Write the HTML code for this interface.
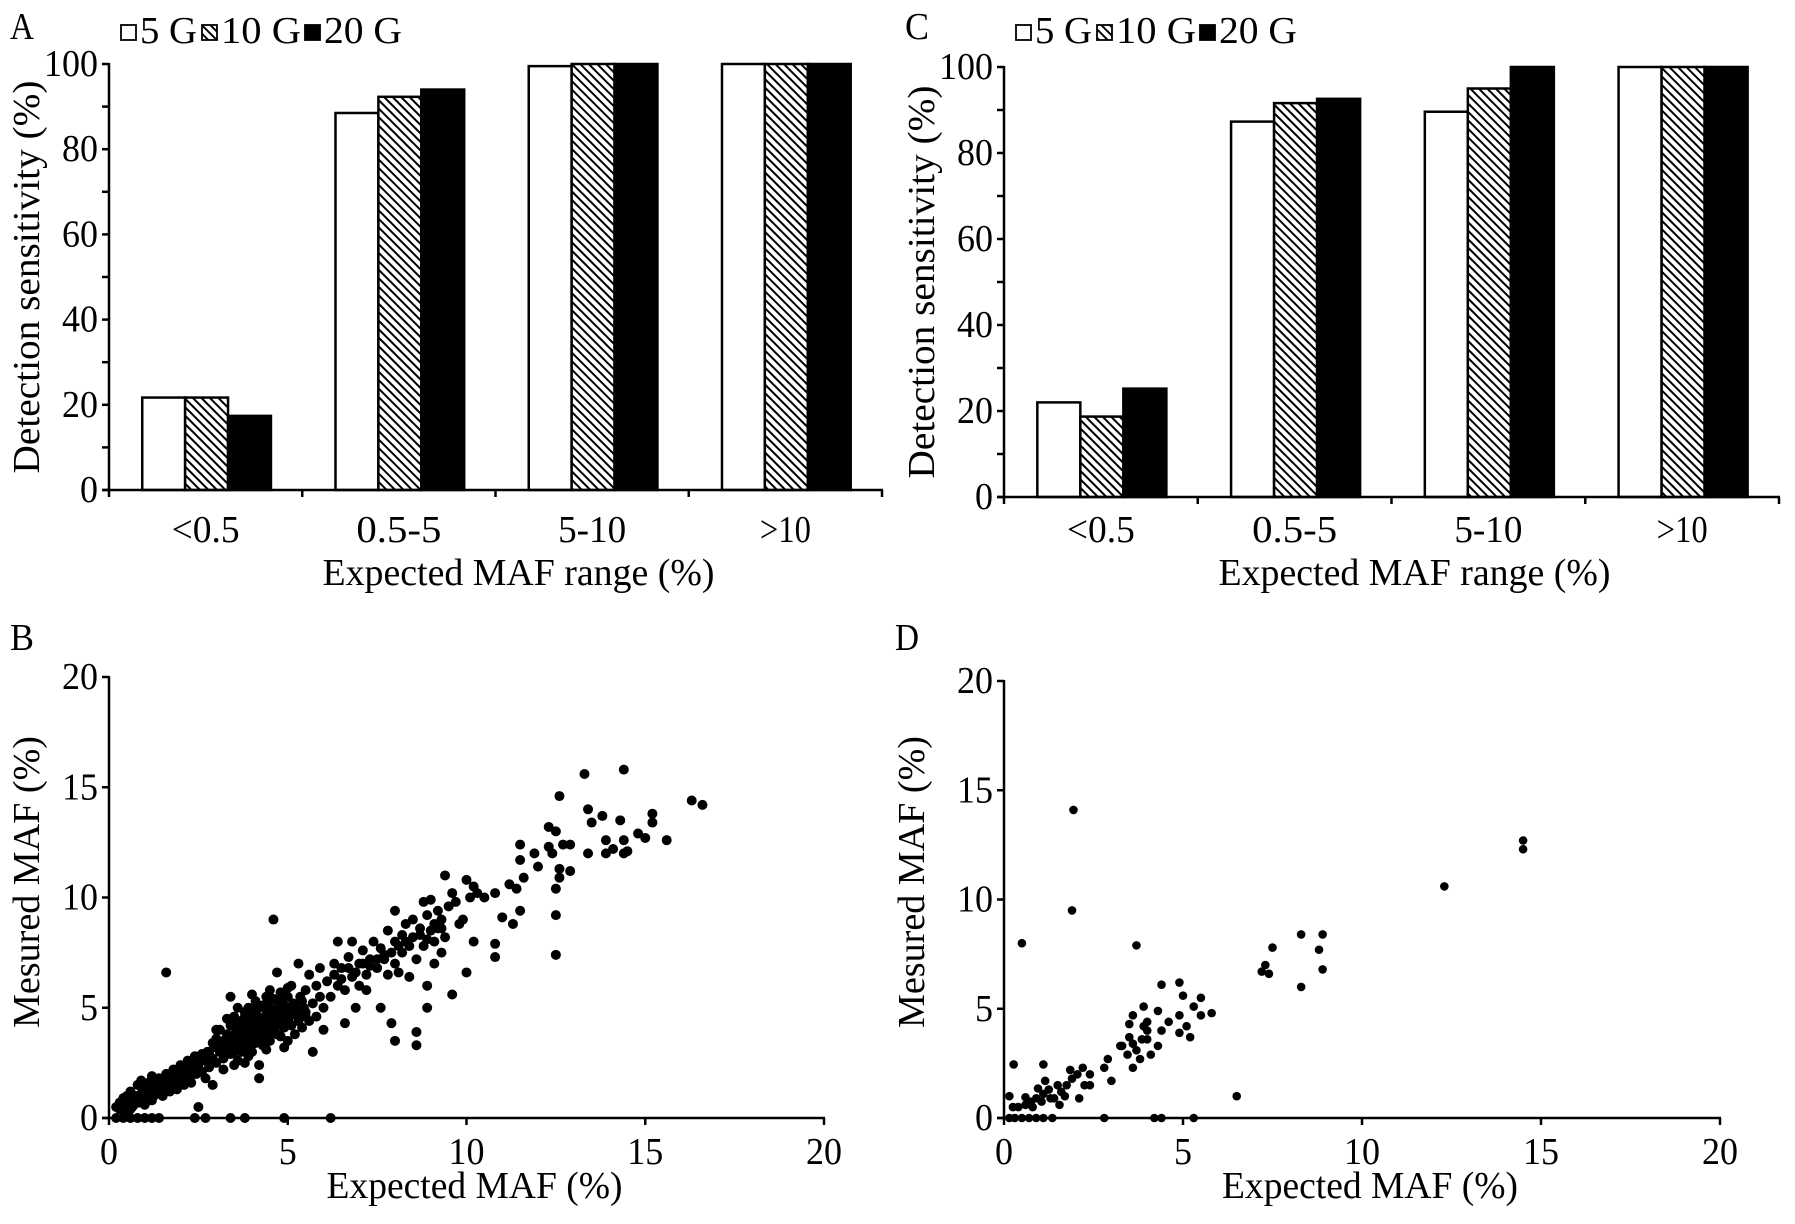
<!DOCTYPE html>
<html><head><meta charset="utf-8">
<style>
html,body{margin:0;padding:0;background:#fff;}
svg{display:block;}
text{font-family:"Liberation Serif","Times New Roman",serif;fill:#000;}
</style></head>
<body>
<svg id="fig" width="1795" height="1224" viewBox="0 0 1795 1224" xmlns="http://www.w3.org/2000/svg">
<defs>
<pattern id="hatch" patternUnits="userSpaceOnUse" width="6" height="6" patternTransform="rotate(45)">
<rect width="6" height="6" fill="#fff"/>
<rect x="0" y="0" width="6" height="2" fill="#000"/>
</pattern>
</defs>
</svg>
<script>
// ---- data ----
const categories = ["<0.5","0.5-5","5-10",">10"];
const seriesNames = ["5 G","10 G","20 G"];
const barYTicks = [0,20,40,60,80,100];
const panelA5G = [21.7,88.5,99.5,100];
const panelA10G = [21.7,92.3,100,100];
const panelA20G = [17.4,94,100,100];
const panelC5G = [22,87.3,89.6,100];
const panelC10G = [18.7,91.6,95,100];
const panelC20G = [25.2,92.6,100,100];
const scatterTicks = [0,5,10,15,20];
const panelBx = [0.2,0.4,0.6,0.8,1.0,1.2,1.4,2.4,2.7,3.4,3.8,4.9,6.2,
0.2,0.3,0.3,0.4,0.4,0.5,0.5,0.6,0.6,0.7,0.7,0.8,0.8,0.9,0.9,1.0,1.0,1.1,1.1,1.2,1.2,1.3,1.3,1.4,1.4,1.5,1.5,1.6,1.6,1.7,1.7,1.8,1.8,1.9,1.9,2.0,2.0,2.1,2.1,2.2,2.2,2.3,2.3,2.4,2.4,2.5,2.5,2.6,2.6,2.7,2.7,2.8,2.8,2.9,2.9,3.0,3.0,3.0,1.6,0.6,1.0,0.9,1.2,0.5,
3.1,3.2,3.2,3.3,3.3,3.4,3.4,3.4,3.5,3.5,3.5,3.6,3.6,3.6,3.7,3.7,3.7,3.8,3.8,3.8,3.8,3.9,3.9,3.9,4.0,4.0,4.0,4.0,4.1,4.1,4.1,4.2,4.2,4.2,4.2,4.3,4.3,4.3,4.4,4.4,4.4,4.5,4.5,4.5,4.6,4.6,4.6,4.7,4.7,4.7,4.8,4.8,4.8,4.9,4.9,5.0,5.0,5.0,5.1,5.1,5.2,5.2,5.3,5.3,5.4,5.4,5.5,5.5,5.6,5.6,5.7,5.7,5.8,5.8,5.9,5.9,6.0,6.0,3.2,3.5,3.9,4.4,4.9,3.1,3.3,3.6,4.1,4.5,2.9,3.0,
3.15,3.25,3.35,3.45,3.55,3.65,3.75,3.85,3.95,4.05,4.15,4.25,4.35,4.45,4.55,4.65,4.75,4.85,4.95,5.05,5.15,5.25,5.35,5.45,3.3,3.5,3.7,3.9,4.1,4.3,4.5,4.7,4.9,5.1,5.3,5.5,3.6,3.8,4.0,4.2,4.4,4.6,4.8,5.0,
0.35,0.55,0.75,0.95,1.15,1.35,1.55,1.75,1.95,2.15,2.35,2.55,2.75,0.45,0.65,0.85,1.05,1.25,1.45,1.65,1.85,2.05,2.25,2.45,
6.1,6.2,6.3,6.4,6.4,6.5,6.6,6.6,6.7,6.8,6.8,6.9,7.0,7.0,7.1,7.2,7.2,7.3,7.4,7.5,7.6,7.6,7.7,7.8,7.8,7.9,7.9,8.0,8.0,8.0,8.0,8.1,8.2,8.2,8.3,8.4,8.4,8.5,8.5,8.6,8.6,8.6,8.7,8.8,8.8,8.9,8.9,8.9,9.0,9.0,9.1,9.1,9.2,9.2,9.3,9.3,9.4,9.4,9.5,9.6,9.6,9.7,9.8,9.9,10.0,10.0,10.1,10.2,10.2,10.3,10.5,10.8,10.8,10.8,11.0,11.2,11.3,11.4,11.5,11.5,11.6,11.5,11.9,12.0,12.3,12.3,12.4,12.5,12.5,12.5,12.5,12.6,12.6,12.6,12.7,12.9,12.9,13.3,13.4,13.4,13.5,13.8,13.9,13.9,14.1,14.3,14.4,14.4,14.4,14.5,14.8,15.0,15.2,15.2,15.6,16.3,16.6,
6.3,6.5,6.7,6.9,7.1,7.3,7.5,7.7,8.1,8.3,8.7,8.9,9.1,9.3];
const panelBy = [0,0,0,0,0,0,0,0,0,0,0,0,0,
0.5,0.7,0.4,0.9,0.6,0.5,1.0,0.8,1.2,0.6,1.0,0.9,1.5,1.1,0.7,1.3,0.9,1.6,1.0,1.2,0.8,1.5,1.1,1.8,1.3,1.0,1.6,1.4,2.0,1.7,1.2,2.2,1.5,1.9,1.3,2.4,1.7,2.0,1.5,2.6,1.9,2.2,1.6,2.8,2.0,2.4,0.5,2.9,2.1,2.6,1.8,3.0,2.3,2.7,1.5,3.2,4.0,2.5,6.6,0.4,0.6,1.7,1.9,0.3,
3.0,3.5,2.7,3.8,3.1,4.2,2.9,5.5,3.6,4.6,3.0,4.0,3.3,2.6,4.4,3.7,3.0,4.8,3.9,3.2,2.5,4.2,3.5,5.0,4.6,3.8,3.0,5.6,4.2,3.4,4.9,4.5,3.7,1.8,2.4,5.1,4.0,3.3,4.7,3.8,5.5,4.3,3.5,5.0,4.6,3.9,9.0,5.3,4.2,6.6,4.8,3.7,5.7,4.4,5.1,4.7,3.5,5.5,4.2,6.0,5.0,3.8,4.6,7.0,5.3,4.1,5.8,4.8,6.5,4.4,5.2,3.0,6.0,4.6,5.5,6.8,5.0,4.0,2.2,2.4,2.8,3.1,3.2,4.0,4.5,5.0,5.3,5.8,3.4,3.6,
3.3,3.2,3.6,3.4,3.9,3.6,4.0,3.7,4.3,3.9,4.6,4.1,4.4,4.0,4.8,4.3,5.0,4.5,4.9,4.6,5.2,4.8,5.5,5.0,2.9,3.0,3.3,3.2,3.6,3.5,3.8,3.8,4.1,4.2,4.4,4.6,4.4,4.6,4.9,5.0,5.2,5.4,5.3,5.9,
0.6,0.8,1.0,1.2,1.4,1.6,1.8,2.0,2.2,2.4,2.6,2.8,3.0,0.3,0.5,0.7,0.8,1.0,1.1,1.3,1.4,1.6,1.8,2.0,
6.2,5.5,7.0,6.0,8.0,6.8,5.8,4.3,7.3,8.0,6.4,5.0,7.0,6.0,7.6,6.5,5.8,7.2,8.0,6.8,7.7,5.0,7.2,6.5,8.5,7.5,4.3,8.0,7.0,3.5,9.4,6.6,8.3,7.5,8.8,7.8,6.4,9.0,8.2,7.2,3.9,3.3,8.6,9.8,7.8,9.2,6.0,5.0,8.5,9.9,8.0,7.0,9.4,8.6,9.0,7.5,11.0,8.2,9.6,5.6,10.2,9.8,8.8,9.0,10.8,6.6,10.0,8.0,10.5,10.2,10.0,10.2,7.9,7.3,9.1,10.6,8.8,10.4,9.4,11.7,10.9,12.4,12.0,11.4,12.3,13.2,12.0,13.0,10.4,9.2,7.4,10.9,11.3,14.6,12.4,12.4,11.2,15.6,14.0,12.0,13.4,13.7,12.6,12.0,12.2,13.5,15.8,12.6,12.0,12.1,12.9,12.7,13.8,13.4,12.6,14.4,14.2,
6.5,6.3,6.8,6.6,7.0,6.9,7.2,7.4,7.8,8.0,8.3,8.1,8.8,8.6];
const panelDx = [1.94,1.9,0.5,3.7,14.5,14.5,12.3,8.3,8.9,8.8,7.5,7.2,7.4,7.3,8.9,8.3,6.5,
4.4,4.9,5.0,5.5,5.8,5.5,5.3,5.1,5.2,4.9,4.9,4.6,4.4,4.3,4.3,4.1,3.9,4.0,4.0,3.9,3.85,3.8,3.6,3.5,3.5,3.6,3.6,3.45,3.3,3.25,3.7,4.0,2.9,2.8,3.0,2.4,2.4,2.25,2.2,1.9,1.85,2.05,1.75,2.1,1.7,1.55,1.5,1.4,1.25,1.15,1.1,1.1,1.05,0.95,0.9,0.8,0.75,0.6,0.6,0.4,0.27,0.15,0.25,1.6,1.3,
0.15,0.3,0.5,0.7,0.9,1.1,1.35,2.8,4.2,4.4,5.3];
const panelDy = [14.1,9.5,8.0,7.9,12.7,12.3,10.6,8.4,8.4,7.7,7.8,6.7,6.6,7.0,6.8,6.0,1.0,
6.1,6.2,5.6,5.5,4.8,4.7,5.1,4.2,3.7,3.9,4.7,4.4,4.0,4.9,3.3,2.9,5.1,4.4,4.0,4.2,3.6,2.7,4.7,4.3,3.7,3.4,2.3,2.9,3.3,3.3,3.1,3.6,2.7,2.3,1.7,2.0,1.5,1.5,2.3,1.8,2.2,2.0,1.5,0.9,1.0,0.6,1.5,0.9,1.3,1.7,2.45,1.1,0.75,1.35,0.9,0.5,0.75,0.95,0.6,0.5,2.45,1.0,0.5,1.2,0.9,
0,0,0,0,0,0,0,0,0,0,0];

// ---- drawing ----
const NS = "http://www.w3.org/2000/svg";
const svg = document.getElementById("fig");
function mk(tag, attrs, parent){
  const e = document.createElementNS(NS, tag);
  for (const k in attrs) e.setAttribute(k, attrs[k]);
  (parent||svg).appendChild(e);
  return e;
}
function txt(s, x, y, size, anchor, parent, len){
  const t = mk("text", {x:x, y:y, "font-size":size, "text-anchor":anchor||"start", "font-family":"Liberation Serif, serif"}, parent);
  if (len){ t.setAttribute("textLength", len); t.setAttribute("lengthAdjust","spacingAndGlyphs"); }
  t.textContent = s;
  return t;
}
const FS = 38;

function barPanel(letter, x0, x1, y0, y100, dx, vals){
  const g = mk("g", {});
  
  
  const yS = v => y0 + (y100 - y0) * v / 100;
  const gw = (x1 - x0) / categories.length;
  const pl = txt(letter, dx + 10, 39, FS, "start", g, 24);
  
  
  const lg = mk("g", {}, g);
  
  
  const fills = ["#fff","url(#hatch)","#000"];
  const lx = [dx + 121, dx + 202, dx + 305];
  const tl = [57, 80, 78];
  for (let i = 0; i < 3; i++){
    const le = mk("g", {}, lg);
    
    
    mk("rect", {x:lx[i], y:25, width:15, height:15, fill:fills[i], stroke:"#000", "stroke-width":1.8}, le);
    txt(seriesNames[i], lx[i] + 19, 43, FS, "start", le, tl[i]);
  }
  const series = [vals[0], vals[1], vals[2]];
  const bw = gw * 0.222;
  const off = gw * 0.172;
  for (let c = 0; c < categories.length; c++){
    for (let s = 0; s < 3; s++){
      const v = series[s][c];
      const bx = x0 + c * gw + off + s * bw;
      const r = mk("rect", {x:bx, y:yS(v), width:bw, height:y0 - yS(v), fill:fills[s], stroke:"#000", "stroke-width":2.5}, g);
      
      
    }
    const cl = txt(categories[c], x0 + c * gw + gw/2, 542, FS, "middle", g, categories[c].length * 17);
    
    
  }
  const ax = mk("g", {stroke:"#000", "stroke-width":2.5, fill:"none"}, g);
  
  
  mk("line", {x1:x0, y1:y100 - 1, x2:x0, y2:y0 + 1}, ax);
  mk("line", {x1:x0 - 7, y1:y0, x2:x1 + 1, y2:y0}, ax);
  for (let c = 0; c <= categories.length; c++){
    mk("line", {x1:x0 + c * gw, y1:y0, x2:x0 + c * gw, y2:y0 + 7}, ax);
  }
  for (let v = 0; v <= 100; v += 10){
    mk("line", {x1:x0 - 7, y1:yS(v), x2:x0, y2:yS(v)}, ax);
  }
  barYTicks.forEach(v => {
    const t = txt(String(v), x0 - 11, yS(v) + 12, FS, "end", g, String(v).length * 18);
    
    
  });
  const yt = txt("Detection sensitivity (%)", 0, 0, FS, "middle", g, 393);
  yt.setAttribute("transform", "translate(" + (dx + 39) + "," + ((y0 + y100) / 2) + ") rotate(-90)");
  
  
  const xt = txt("Expected MAF range (%)", (x0 + x1) / 2 + 23, 585, FS, "middle", g, 392);
  
  
}

function scatterPanel(letter, x0, x20, y0, y20, dx, xs, ys, rad){
  const g = mk("g", {});
  
  
  const xS = v => x0 + (x20 - x0) * v / 20;
  const yS = v => y0 + (y20 - y0) * v / 20;
  const pl = txt(letter, dx + 10, 650, FS, "start", g, 24);
  
  
  for (let i = 0; i < xs.length; i++){
    const p = mk("circle", {cx:xS(xs[i]), cy:yS(ys[i]), r:rad, fill:"#000"}, g);
    
    
  }
  const ax = mk("g", {stroke:"#000", "stroke-width":2.5, fill:"none"}, g);
  
  
  mk("line", {x1:x0, y1:y20 - 1, x2:x0, y2:y0 + 1}, ax);
  mk("line", {x1:x0 - 7, y1:y0, x2:x20 + 1, y2:y0}, ax);
  scatterTicks.forEach(v => {
    mk("line", {x1:x0 - 7, y1:yS(v), x2:x0, y2:yS(v)}, ax);
    mk("line", {x1:xS(v), y1:y0, x2:xS(v), y2:y0 + 7}, ax);
    const ty = txt(String(v), x0 - 11, yS(v) + 12, FS, "end", g, String(v).length * 18);
    
    
    const tx = txt(String(v), xS(v), 1164, FS, "middle", g, String(v).length * 18);
    
    
  });
  const yt = txt("Mesured MAF (%)", 0, 0, FS, "middle", g, 292);
  yt.setAttribute("transform", "translate(" + (dx + 39) + "," + 882 + ") rotate(-90)");
  
  
  const xt = txt("Expected MAF (%)", (x0 + x20) / 2 + 8, 1198, FS, "middle", g, 296);
  
  
}

barPanel("A", 109, 882, 490, 64, 0, [panelA5G, panelA10G, panelA20G]);
barPanel("C", 1004, 1779, 497, 67, 895, [panelC5G, panelC10G, panelC20G]);
scatterPanel("B", 109, 824, 1118, 677, 0, panelBx, panelBy, 5);
scatterPanel("D", 1004, 1720, 1118, 681, 885, panelDx, panelDy, 4.3);
</script>
</body></html>
